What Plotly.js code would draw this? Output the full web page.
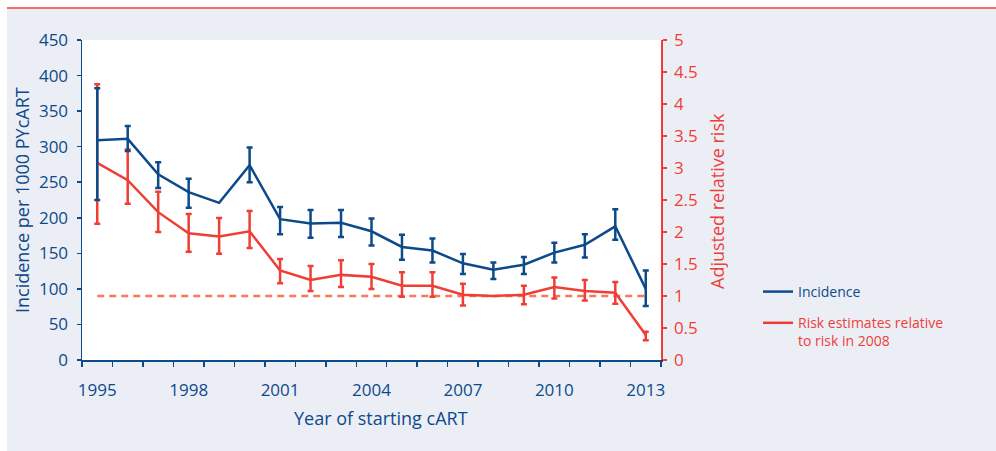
<!DOCTYPE html>
<html><head><meta charset="utf-8">
<script src="https://cdn.plot.ly/plotly-3.0.1.min.js"></script>
<style>html,body{margin:0;padding:0;background:#fff}#chart{width:996px;height:451px}</style>
</head><body><div id="chart"></div>
<script>
const years = [1995,1996,1997,1998,1999,2000,2001,2002,2003,2004,2005,2006,2007,2008,2009,2010,2011,2012,2013];
const xTickLabels = [1995,1998,2001,2004,2007,2010,2013];
const incidence      = [309, 311, 261, 236, 221, 274, 198, 192, 193, 181, 159, 154, 136, 127, 134, 151, 162, 188, 100];
const incidenceUpper = [382, 329, 278, 255, NaN, 299, 215, 211, 211, 199, 176, 171, 149, 137, 145, 165, 177, 212, 126];
const incidenceLower = [225, 294, 242, 214, NaN, 250, 177, 172, 173, 161, 141, 137, 121, 114, 121, 137, 144, 169, 76];
const risk      = [3.08, 2.81, 2.31, 1.98, 1.93, 2.01, 1.40, 1.25, 1.33, 1.30, 1.16, 1.16, 1.02, 1.00, 1.02, 1.14, 1.08, 1.05, 0.39];
const riskUpper = [4.31, 3.29, 2.63, 2.28, 2.22, 2.33, 1.58, 1.47, 1.56, 1.50, 1.37, 1.37, 1.19, NaN, 1.16, 1.29, 1.25, 1.22, 0.44];
const riskLower = [2.13, 2.44, 2.00, 1.69, 1.66, 1.75, 1.20, 1.08, 1.14, 1.11, 0.99, 0.99, 0.85, NaN, 0.87, 0.96, 0.93, 0.88, 0.31];
const referenceRisk = 1;

const NAVY = '#0d4a8a';
const RED = '#ef3e36';
const DASH = '#f47a5e';
const BG = '#eceef6';
const FONT = 'Open Sans, sans-serif';

const plus = (u, v) => u.map((x, i) => x - v[i]);
const minus = (l, v) => l.map((x, i) => v[i] - x);

const traces = [
  {
    x: years, y: years.map(() => referenceRisk), yaxis: 'y', mode: 'lines',
    line: {color: DASH, width: 2.5, dash: '7px,5px'}, showlegend: false, hoverinfo: 'skip'
  },
  {
    x: years, y: risk, yaxis: 'y', mode: 'lines', name: '<span style="color:' + RED + '">Risk estimates relative</span><br><span style="color:' + RED + '">to risk in 2008</span>',
    line: {color: RED, width: 2.5}, legendrank: 2, legendgroup: 'b',
    error_y: {type: 'data', symmetric: false, array: plus(riskUpper, risk), arrayminus: minus(riskLower, risk), color: RED, thickness: 2.5, width: 3}
  },
  {
    x: years, y: incidence, yaxis: 'y2', mode: 'lines', name: 'Incidence',
    line: {color: NAVY, width: 2.5}, legendrank: 1, legendgroup: 'a',
    error_y: {type: 'data', symmetric: false, array: plus(incidenceUpper, incidence), arrayminus: minus(incidenceLower, incidence), color: NAVY, thickness: 2.5, width: 3}
  }
];

const L = 82, R = 661, T = 40, B = 360, W = 996, H = 451;
const px = v => (v - L) / (R - L);
const py = v => (B - v) / (B - T);

const layout = {
  width: W, height: H,
  margin: {l: L, r: W - R, t: T, b: H - B, pad: 0},
  paper_bgcolor: '#ffffff', plot_bgcolor: '#ffffff',
  font: {family: FONT, color: NAVY, size: 17},
  showlegend: true,
  xaxis: {
    range: [1994.5, 2013.5], tickmode: 'array', tickvals: xTickLabels, ticktext: xTickLabels.map(String),
    ticks: '', showline: true, linecolor: NAVY, linewidth: 1.5, showgrid: false, zeroline: false,
    tickfont: {family: FONT, color: NAVY, size: 17}, ticklabelstandoff: 14,
    minor: {tick0: 1994.5, dtick: 1, ticks: 'outside', ticklen: 5, tickwidth: 1.5, tickcolor: NAVY, showgrid: false}
  },
  yaxis: {
    side: 'right', range: [0, 5], tick0: 0, dtick: 0.5, ticks: 'outside', ticklen: 4, tickwidth: 1.5, tickcolor: RED,
    showline: true, linecolor: RED, linewidth: 1.5, showgrid: false, zeroline: false,
    tickfont: {family: FONT, color: RED, size: 17}, ticklabelstandoff: 4
  },
  yaxis2: {
    side: 'left', overlaying: 'y', range: [0, 450], tick0: 0, dtick: 50, ticks: 'outside', ticklen: 4, tickwidth: 1.5, tickcolor: NAVY,
    showline: true, linecolor: NAVY, linewidth: 1.5, showgrid: false, zeroline: false,
    tickfont: {family: FONT, color: NAVY, size: 17}, ticklabelstandoff: 5
  },
  legend: {
    x: px(758), y: py(276), xanchor: 'left', yanchor: 'top', bgcolor: 'rgba(0,0,0,0)',
    font: {family: FONT, color: NAVY, size: 14}, itemwidth: 30, valign: 'top',
    traceorder: 'grouped', tracegroupgap: 10
  },
  shapes: [
    {type: 'rect', xref: 'paper', yref: 'paper', x0: px(7), x1: px(W), y0: py(H), y1: py(9), fillcolor: BG, line: {width: 0}, layer: 'below'},
    {type: 'rect', xref: 'paper', yref: 'paper', x0: 0, x1: 1, y0: 0, y1: 1, fillcolor: '#ffffff', line: {width: 0}, layer: 'below'},
    {type: 'line', xref: 'paper', yref: 'paper', x0: px(7), x1: px(W), y0: py(8), y1: py(8), line: {color: RED, width: 1.5}}
  ],
  annotations: [
    {text: 'Incidence per 1000 PYcART', xref: 'paper', yref: 'paper', x: px(22), y: py(200), xanchor: 'center', yanchor: 'middle', textangle: -90, showarrow: false, font: {family: FONT, color: NAVY, size: 18}},
    {text: 'Adjusted relative risk', xref: 'paper', yref: 'paper', x: px(717), y: py(201), xanchor: 'center', yanchor: 'middle', textangle: -90, showarrow: false, font: {family: FONT, color: RED, size: 18}},
    {text: 'Year of starting cART', xref: 'paper', yref: 'paper', x: px(381), y: py(418), xanchor: 'center', yanchor: 'middle', showarrow: false, font: {family: FONT, color: NAVY, size: 18}}
  ]
};

Plotly.newPlot('chart', traces, layout, {staticPlot: true, displayModeBar: false});
</script>
</body></html>
